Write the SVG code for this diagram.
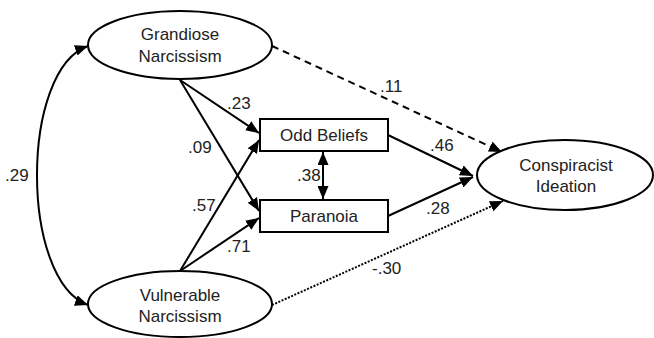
<svg xmlns="http://www.w3.org/2000/svg" width="654" height="338" viewBox="0 0 654 338">
<style>
.node{fill:#fff;stroke:#000;stroke-width:2}
.lbl{font-family:"Liberation Sans",Arial,sans-serif;font-size:17px;fill:#222;text-anchor:middle}
.num{font-family:"Liberation Sans",Arial,sans-serif;font-size:17px;fill:#222}
.e{fill:none;stroke:#000;stroke-width:2}
</style>
<defs>
<marker id="ah" viewBox="0 0 13 11" refX="13" refY="5.5" markerWidth="13" markerHeight="11" markerUnits="userSpaceOnUse" orient="auto-start-reverse">
<path d="M0,0 L13,5.5 L0,11 z" fill="#000"/>
</marker>
</defs>
<g id="connectors">
<path class="e" d="M88,46 C20,70 20,280 88,305" marker-start="url(#ah)" marker-end="url(#ah)"/>
<line class="e" x1="180" y1="80" x2="259" y2="133" marker-end="url(#ah)"/>
<line class="e" x1="180" y1="80" x2="259" y2="211" marker-end="url(#ah)"/>
<line class="e" x1="180" y1="271" x2="259" y2="140" marker-end="url(#ah)"/>
<line class="e" x1="180" y1="271" x2="259" y2="218" marker-end="url(#ah)"/>
<line class="e" x1="323" y1="152" x2="323" y2="199" marker-start="url(#ah)" marker-end="url(#ah)"/>
<line class="e" x1="388" y1="135" x2="473" y2="176" marker-end="url(#ah)"/>
<line class="e" x1="388" y1="216" x2="473" y2="177" marker-end="url(#ah)"/>
<line class="e" x1="272" y1="46" x2="502" y2="152" stroke-dasharray="7,5" marker-end="url(#ah)"/>
<line class="e" x1="272" y1="305" x2="503" y2="201" stroke-dasharray="2,1.5" stroke-width="1.8" marker-end="url(#ah)"/>
</g>
<g id="grandiose">
<ellipse class="node" cx="180" cy="45" rx="92" ry="34"/>
<text class="lbl" x="180" y="40">Grandiose</text>
<text class="lbl" x="180" y="62">Narcissism</text>
</g>
<g id="vulnerable">
<ellipse class="node" cx="180" cy="304" rx="92" ry="33"/>
<text class="lbl" x="180" y="301">Vulnerable</text>
<text class="lbl" x="180" y="322">Narcissism</text>
</g>
<g id="conspiracist">
<ellipse class="node" cx="565" cy="175" rx="88" ry="35"/>
<text class="lbl" x="566" y="171">Conspiracist</text>
<text class="lbl" x="566" y="192">Ideation</text>
</g>
<g id="oddbeliefs">
<rect class="node" x="260" y="119" width="128" height="32"/>
<text class="lbl" x="324" y="141">Odd Beliefs</text>
</g>
<g id="paranoia">
<rect class="node" x="260" y="200" width="128" height="32"/>
<text class="lbl" x="324" y="222">Paranoia</text>
</g>
<g id="labels">
<text class="num" x="5" y="181">.29</text>
<text class="num" x="227" y="109">.23</text>
<text class="num" x="188" y="153">.09</text>
<text class="num" x="380" y="92">.11</text>
<text class="num" x="430" y="151">.46</text>
<text class="num" x="297" y="181">.38</text>
<text class="num" x="192" y="211">.57</text>
<text class="num" x="227" y="252">.71</text>
<text class="num" x="426" y="214">.28</text>
<text class="num" x="372" y="274">-.30</text>
</g>
</svg>
